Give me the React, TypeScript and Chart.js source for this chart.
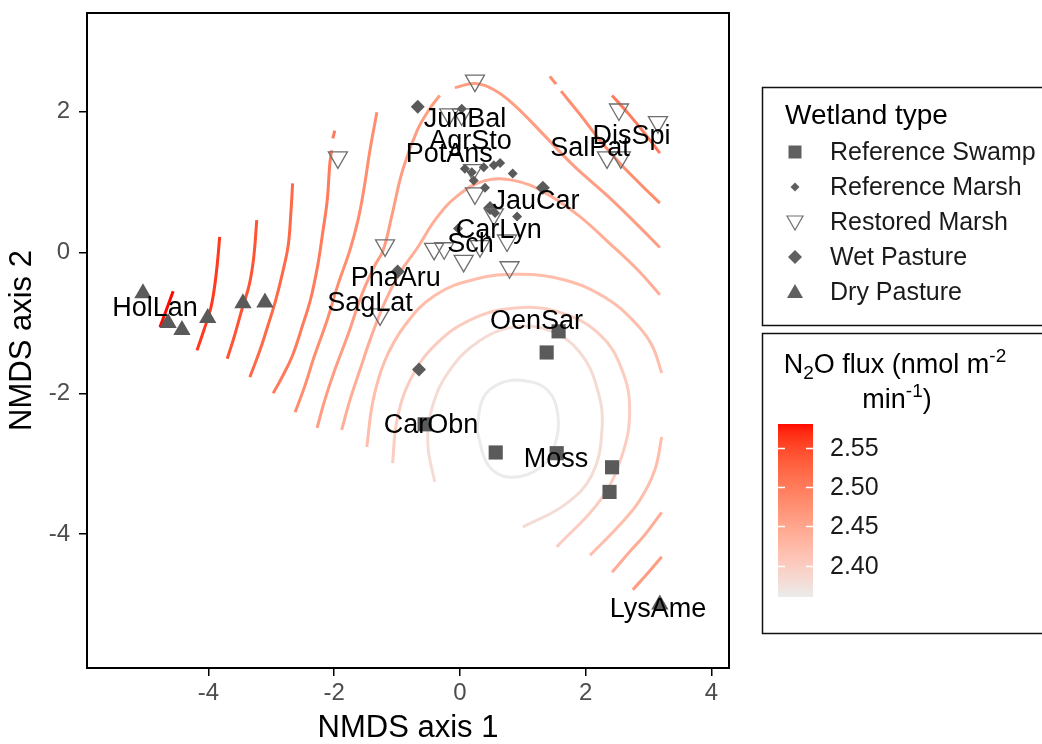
import React, { useEffect, useRef } from 'react';
import { Chart, registerables } from 'chart.js';
Chart.register(...registerables);

const FONT = '"Liberation Sans", Arial, Helvetica, sans-serif';

// ---------- axis settings ----------
const xRange = [-5.93, 4.28];
const yRange = [-5.9, 3.4];
const xTicks = [-4, -2, 0, 2, 4];
const yTicks = [-4, -2, 0, 2];

// ---------- sites (NMDS scores) ----------
const swampPts = [[1.57, -1.12], [1.38, -1.42], [-0.56, -2.44], [0.57, -2.84], [1.54, -2.85], [2.42, -3.05], [2.38, -3.4]];
const refMarshPts = [[0.03, 2.04], [0.08, 1.19], [0.22, 1.02], [0.38, 1.21], [0.54, 1.24], [0.64, 1.27], [0.84, 1.12], [0.4, 0.92], [0.56, 0.56], [0.91, 0.51], [-0.03, 0.34], [0.19, 1.14]];
const restoredPts = [[0.24, 2.44], [-1.94, 1.35], [2.53, 2.03], [3.15, 1.85], [2.34, 1.35], [2.56, 1.35], [-0.17, 1.96], [0.03, 1.96], [0.21, 1.17], [0.24, 0.84], [-1.19, 0.1], [-0.41, 0.05], [-0.25, 0.06], [0.06, -0.12], [0.79, -0.21], [0.75, 0.17], [0.54, 0.54], [-1.27, -0.88], [0.32, 0.09]];
const wetPasturePts = [[-0.67, 2.07], [1.32, 0.92], [0.48, 0.63], [-0.99, -0.27], [-0.65, -1.66]];
const dryPasturePts = [[-5.04, -0.58], [-4.64, -1.0], [-4.42, -1.1], [-4.01, -0.93], [-3.45, -0.72], [-3.1, -0.71], [3.18, -5.0]];

// ---------- species labels ----------
const speciesNames = ['HolLan', 'SagLat', 'PhaAru', 'JunBal', 'AgrSto', 'PotAns', 'SalPat', 'DisSpi', 'JauCar', 'CarLyn', 'Sch', 'OenSar', 'CarObn', 'Moss', 'LysAme'];
const speciesX = [-4.85, -1.43, -1.02, 0.08, 0.17, -0.17, 2.07, 2.73, 1.21, 0.62, 0.17, 1.22, -0.46, 1.53, 3.15];
const speciesY = [-0.78, -0.71, -0.35, 1.9, 1.59, 1.41, 1.49, 1.66, 0.74, 0.32, 0.12, -0.96, -2.45, -2.93, -5.05];

// ---------- N2O surface contours ----------
const contourLevels = [2.36, 2.38, 2.40, 2.42, 2.44, 2.46, 2.48, 2.50, 2.52, 2.54, 2.56, 2.58];
const ring0 = [[0.27, -2.52], [0.37, -2.07], [0.64, -1.86], [1.03, -1.82], [1.4, -1.96], [1.56, -2.32], [1.51, -2.73], [1.27, -3.06], [0.79, -3.19], [0.45, -3.02], [0.27, -2.52]];
const ring1 = [[-0.4, -3.26], [-0.51, -2.71], [-0.43, -2.17], [-0.16, -1.67], [0.32, -1.25], [0.87, -1.06], [1.43, -1.11], [1.91, -1.42], [2.19, -1.95], [2.26, -2.52], [2.1, -3.16], [1.67, -3.58], [1.0, -3.9]];
const ring2 = [[-1.07, -2.99], [-1.0, -2.38], [-0.79, -1.81], [-0.4, -1.32], [0.16, -0.96], [0.87, -0.79], [1.59, -0.85], [2.23, -1.17], [2.58, -1.67], [2.7, -2.24], [2.58, -2.88], [2.23, -3.52], [1.54, -4.18]];
const ring3a = [[-1.48, -2.76], [-1.38, -2.1], [-1.19, -1.53], [-0.87, -1.03], [-0.4, -0.61], [0.24, -0.38], [0.95, -0.31], [1.67, -0.39], [2.31, -0.64], [2.78, -0.99], [3.05, -1.31], [3.21, -1.71]];
const ring3b = [[3.21, -2.62], [3.1, -3.09], [2.86, -3.52], [2.54, -3.87], [2.07, -4.3]];
const ring4a = [[-1.88, -2.52], [-1.75, -2.1], [-1.59, -1.67], [-1.4, -1.17], [-1.18, -0.68], [-0.95, -0.28], [-0.68, 0.06], [-0.37, 0.49], [-0.03, 0.81], [0.4, 1.02], [0.87, 1.02], [1.35, 0.85], [1.88, 0.53], [2.38, 0.13], [2.83, -0.25], [3.18, -0.6]];
const ring4b = [[3.21, -3.69], [2.94, -4.01], [2.7, -4.25], [2.42, -4.54]];
const ring5a = [[-2.27, -2.49], [-2.15, -2.1], [-1.99, -1.67], [-1.78, -1.17], [-1.56, -0.6], [-1.35, -0.18], [-1.22, 0.03], [-1.08, 0.53], [-0.91, 1.17], [-0.68, 1.73], [-0.48, 2.04], [-0.32, 2.23]];
const ring5b = [[-0.08, 2.34], [0.24, 2.4], [0.56, 2.3], [0.87, 2.09], [1.27, 1.73], [1.8, 1.24], [2.34, 0.81], [2.86, 0.36], [3.18, 0.07]];
const ring5c = [[3.21, -4.32], [2.99, -4.55], [2.75, -4.79]];
const ring6a = [[-2.62, -2.27], [-2.46, -1.88], [-2.31, -1.46], [-2.11, -0.96], [-1.94, -0.46], [-1.75, 0.03], [-1.62, 0.46], [-1.53, 0.88], [-1.43, 1.45], [-1.32, 1.99]];
const ring6b = [[1.43, 2.5], [1.53, 2.39]];
const ring6c = [[1.61, 2.29], [1.91, 1.96], [2.23, 1.59], [2.54, 1.27], [2.86, 0.98], [3.18, 0.7]];
const ring7a = [[-2.97, -2.0], [-2.81, -1.74], [-2.66, -1.46], [-2.5, -1.03], [-2.37, -0.65], [-2.26, -0.18], [-2.18, 0.29], [-2.11, 0.74], [-2.07, 1.24], [-2.04, 1.45]];
const ring7b = [[-2.02, 1.62], [-1.99, 1.73]];
const ring7c = [[2.42, 2.23], [2.7, 1.95], [2.94, 1.69], [3.18, 1.41]];
const ring8 = [[-3.34, -1.77], [-3.18, -1.39], [-3.05, -1.03], [-2.93, -0.68], [-2.81, -0.25], [-2.73, 0.1], [-2.69, 0.53], [-2.66, 0.98]];
const ring9 = [[-3.7, -1.51], [-3.59, -1.2], [-3.47, -0.82], [-3.35, -0.46], [-3.28, -0.08], [-3.23, 0.46]];
const ring10 = [[-4.18, -1.39], [-4.07, -1.1], [-3.97, -0.82], [-3.91, -0.54], [-3.86, -0.18], [-3.82, 0.22]];
const ring11 = [[-4.77, -1.06], [-4.67, -0.82], [-4.56, -0.55]];

const contourPieces: [number, number[][]][] = [
  [0, ring0], [1, ring1], [2, ring2], [3, ring3a], [3, ring3b], [4, ring4a], [4, ring4b],
  [5, ring5a], [5, ring5b], [5, ring5c], [6, ring6a], [6, ring6b], [6, ring6c],
  [7, ring7a], [7, ring7b], [7, ring7c], [8, ring8], [9, ring9], [10, ring10], [11, ring11],
];

// ---------- colour bar ----------
const barLimits = [2.36, 2.58];
const barTicks = [2.40, 2.45, 2.50, 2.55];
const barTickLabels = ['2.40', '2.45', '2.50', '2.55'];

const legendLabels = ['Reference Swamp', 'Reference Marsh', 'Restored Marsh', 'Wet Pasture', 'Dry Pasture'];

// ---------- Lab colour interpolation (grey -> red) ----------
function toLin(c: number) { c /= 255; return c <= 0.04045 ? c / 12.92 : Math.pow((c + 0.055) / 1.055, 2.4); }
function fromLin(c: number) { const v = c <= 0.0031308 ? 12.92 * c : 1.055 * Math.pow(c, 1 / 2.4) - 0.055; return Math.max(0, Math.min(255, Math.round(v * 255))); }
function rgbToLab(r: number, g: number, b: number) {
  const R = toLin(r), G = toLin(g), B = toLin(b);
  const X = (0.4124 * R + 0.3576 * G + 0.1805 * B) / 0.95047;
  const Y = 0.2126 * R + 0.7152 * G + 0.0722 * B;
  const Z = (0.0193 * R + 0.1192 * G + 0.9505 * B) / 1.08883;
  const f = (t: number) => (t > 0.008856 ? Math.cbrt(t) : 7.787 * t + 16 / 116);
  const fx = f(X), fy = f(Y), fz = f(Z);
  return [116 * fy - 16, 500 * (fx - fy), 200 * (fy - fz)];
}
function labToRgb(L: number, a: number, b: number) {
  const fy = (L + 16) / 116, fx = fy + a / 500, fz = fy - b / 200;
  const inv = (t: number) => (t * t * t > 0.008856 ? t * t * t : (t - 16 / 116) / 7.787);
  const X = 0.95047 * inv(fx), Y = inv(fy), Z = 1.08883 * inv(fz);
  const r = 3.2406 * X - 1.5372 * Y - 0.4986 * Z;
  const g = -0.9689 * X + 1.8758 * Y + 0.0415 * Z;
  const bb = 0.0557 * X - 0.204 * Y + 1.057 * Z;
  return `rgb(${fromLin(r)},${fromLin(g)},${fromLin(bb)})`;
}
const LOW = rgbToLab(235, 235, 235);
const HIGH = rgbToLab(255, 10, 0);
function fluxColour(v: number) {
  const t = Math.max(0, Math.min(1, (v - barLimits[0]) / (barLimits[1] - barLimits[0])));
  return labToRgb(LOW[0] + (HIGH[0] - LOW[0]) * t, LOW[1] + (HIGH[1] - LOW[1]) * t, LOW[2] + (HIGH[2] - LOW[2]) * t);
}

const PT = '#5a5a5a';

const overlayPlugin = {
  id: 'overlay',
  afterDatasetsDraw(chart: any) {
    const { ctx, scales } = chart;
    const sx = scales.x, sy = scales.y;
    ctx.save();
    ctx.font = `27px ${FONT}`;
    ctx.fillStyle = '#000';
    ctx.textAlign = 'center';
    ctx.textBaseline = 'middle';
    for (let i = 0; i < speciesNames.length; i++) {
      ctx.fillText(speciesNames[i], sx.getPixelForValue(speciesX[i]), sy.getPixelForValue(speciesY[i]) + 1);
    }
    ctx.restore();
  },
  afterDraw(chart: any) {
    const { ctx, chartArea } = chart;
    ctx.save();
    // panel border
    ctx.strokeStyle = '#000';
    ctx.lineWidth = 2;
    ctx.strokeRect(chartArea.left, chartArea.top, chartArea.right - chartArea.left, chartArea.bottom - chartArea.top);

    // axis titles
    ctx.fillStyle = '#000';
    ctx.font = `31px ${FONT}`;
    ctx.textAlign = 'center';
    ctx.textBaseline = 'middle';
    ctx.fillText('NMDS axis 1', (chartArea.left + chartArea.right) / 2, 728);
    ctx.save();
    ctx.translate(22, (chartArea.top + chartArea.bottom) / 2);
    ctx.rotate(-Math.PI / 2);
    ctx.fillText('NMDS axis 2', 0, 0);
    ctx.restore();

    // ---- shape legend ----
    ctx.lineWidth = 1.5;
    ctx.strokeStyle = '#111';
    ctx.strokeRect(762.5, 87.5, 290, 238);
    ctx.strokeRect(762.5, 333.5, 290, 300);
    ctx.fillStyle = '#000';
    ctx.textAlign = 'left';
    ctx.font = `28px ${FONT}`;
    ctx.fillText('Wetland type', 785, 116);
    ctx.font = `25px ${FONT}`;
    const rows = [152, 187, 222, 257, 292];
    const sxp = 795;
    for (let i = 0; i < legendLabels.length; i++) {
      ctx.fillStyle = '#1a1a1a';
      ctx.fillText(legendLabels[i], 830, rows[i] + 1);
    }
    const gy = '#606060';
    ctx.fillStyle = gy;
    ctx.fillRect(sxp - 6.5, rows[0] - 6.5, 13, 13);
    ctx.beginPath();
    ctx.moveTo(sxp, rows[1] - 4.5); ctx.lineTo(sxp + 4.5, rows[1]); ctx.lineTo(sxp, rows[1] + 4.5); ctx.lineTo(sxp - 4.5, rows[1]);
    ctx.closePath(); ctx.fill();
    ctx.beginPath();
    ctx.moveTo(sxp - 8, rows[2] - 6); ctx.lineTo(sxp + 8, rows[2] - 6); ctx.lineTo(sxp, rows[2] + 8);
    ctx.closePath(); ctx.strokeStyle = '#707070'; ctx.lineWidth = 1.2; ctx.stroke();
    ctx.beginPath();
    ctx.moveTo(sxp, rows[3] - 7); ctx.lineTo(sxp + 7, rows[3]); ctx.lineTo(sxp, rows[3] + 7); ctx.lineTo(sxp - 7, rows[3]);
    ctx.closePath(); ctx.fill();
    ctx.beginPath();
    ctx.moveTo(sxp, rows[4] - 8); ctx.lineTo(sxp + 8, rows[4] + 6); ctx.lineTo(sxp - 8, rows[4] + 6);
    ctx.closePath(); ctx.fill();

    // ---- colour bar legend ----
    const drawRich = (parts: [string, string][], cx: number, base: number) => {
      const big = `27px ${FONT}`, small = `19px ${FONT}`;
      let w = 0;
      for (const [t, k] of parts) { ctx.font = k === 'n' ? big : small; w += ctx.measureText(t).width; }
      let x = cx - w / 2;
      ctx.textBaseline = 'alphabetic';
      ctx.textAlign = 'left';
      ctx.fillStyle = '#000';
      for (const [t, k] of parts) {
        ctx.font = k === 'n' ? big : small;
        const dy = k === 'sub' ? 6 : k === 'sup' ? -11 : 0;
        ctx.fillText(t, x, base + dy);
        x += ctx.measureText(t).width;
      }
    };
    drawRich([['N', 'n'], ['2', 'sub'], ['O flux (nmol m', 'n'], ['-2', 'sup']], 895, 373);
    drawRich([['min', 'n'], ['-1', 'sup'], [')', 'n']], 897, 408);

    const bx = 778, bw = 35, btop = 424, bbot = 597;
    const grad = ctx.createLinearGradient(0, bbot, 0, btop);
    for (let k = 0; k <= 20; k++) {
      const v = barLimits[0] + (barLimits[1] - barLimits[0]) * (k / 20);
      grad.addColorStop(k / 20, fluxColour(v));
    }
    ctx.fillStyle = grad;
    ctx.fillRect(bx, btop, bw, bbot - btop);
    const vy = (v: number) => bbot - ((v - barLimits[0]) / (barLimits[1] - barLimits[0])) * (bbot - btop);
    ctx.strokeStyle = '#fff';
    ctx.lineWidth = 1.5;
    ctx.font = `25px ${FONT}`;
    ctx.textBaseline = 'middle';
    ctx.textAlign = 'left';
    for (let i = 0; i < barTicks.length; i++) {
      const yy = Math.round(vy(barTicks[i])) + 0.5;
      ctx.beginPath();
      ctx.moveTo(bx, yy); ctx.lineTo(bx + 7, yy);
      ctx.moveTo(bx + bw - 7, yy); ctx.lineTo(bx + bw, yy);
      ctx.stroke();
      ctx.fillStyle = '#1a1a1a';
      ctx.fillText(barTickLabels[i], 830, yy + 1);
    }
    ctx.restore();
  },
};

const zeroPad = (s: any) => { s.paddingTop = 0; s.paddingBottom = 0; s.paddingLeft = 0; s.paddingRight = 0; };

export default function App() {
  const ref = useRef<HTMLCanvasElement>(null);
  useEffect(() => {
    const canvas = ref.current!;
    const toXY = (arr: number[][]) => arr.map(([x, y]) => ({ x, y }));
    const contourSets = contourPieces.map(([lvl, pts]) => ({
      data: toXY(pts),
      showLine: true,
      pointRadius: 0,
      borderColor: fluxColour(contourLevels[lvl]),
      borderWidth: 3,
      tension: 0.4,
      fill: false,
      order: 5,
    }));
    const pointSets = [
      { data: toXY(swampPts), pointStyle: 'rect', pointRadius: 10, backgroundColor: PT, borderWidth: 0, order: 1 },
      { data: toXY(refMarshPts), pointStyle: 'rectRot', pointRadius: 5, backgroundColor: PT, borderWidth: 0, order: 1 },
      { data: toXY(restoredPts), pointStyle: 'triangle', rotation: 180, pointRadius: 11, backgroundColor: 'rgba(0,0,0,0)', borderColor: '#6e6e6e', borderWidth: 1.3, order: 1 },
      { data: toXY(wetPasturePts), pointStyle: 'rectRot', pointRadius: 7, backgroundColor: PT, borderWidth: 0, order: 1 },
      { data: toXY(dryPasturePts), pointStyle: 'triangle', pointRadius: 10, backgroundColor: PT, borderWidth: 0, order: 1 },
    ];
    const axisCommon = {
      type: 'linear',
      grid: { display: true, drawOnChartArea: false, drawTicks: true, tickLength: 8, color: '#000', lineWidth: 1.5 },
      border: { display: true, color: '#000', width: 2 },
    };
    const chart = new Chart(canvas, {
      type: 'scatter',
      data: { datasets: [...pointSets, ...contourSets] as any },
      options: {
        responsive: false,
        devicePixelRatio: 1,
        animation: false,
        events: [],
        layout: { padding: { left: 0, top: 13, right: 313, bottom: 0 } },
        plugins: { legend: { display: false }, tooltip: { enabled: false } },
        scales: {
          x: {
            ...axisCommon,
            min: xRange[0], max: xRange[1],
            afterBuildTicks: (s: any) => { s.ticks = xTicks.map((v) => ({ value: v })); },
            afterFit: (s: any) => { s.height = 76; zeroPad(s); },
            ticks: { color: '#4d4d4d', font: { family: FONT, size: 24 }, padding: 3, maxRotation: 0, autoSkip: false },
          },
          y: {
            ...axisCommon,
            min: yRange[0], max: yRange[1],
            afterBuildTicks: (s: any) => { s.ticks = yTicks.map((v) => ({ value: v })); },
            afterFit: (s: any) => { s.width = 87; zeroPad(s); },
            ticks: { color: '#4d4d4d', font: { family: FONT, size: 24 }, padding: 9, autoSkip: false },
          },
        } as any,
      },
      plugins: [overlayPlugin],
    });
    return () => chart.destroy();
  }, []);
  return (
    <div style={{ position: 'fixed', left: 0, top: 0, width: 1042, height: 744, background: '#fff' }}>
      <canvas ref={ref} width={1042} height={744} style={{ width: '1042px', height: '744px', display: 'block' }} />
    </div>
  );
}
